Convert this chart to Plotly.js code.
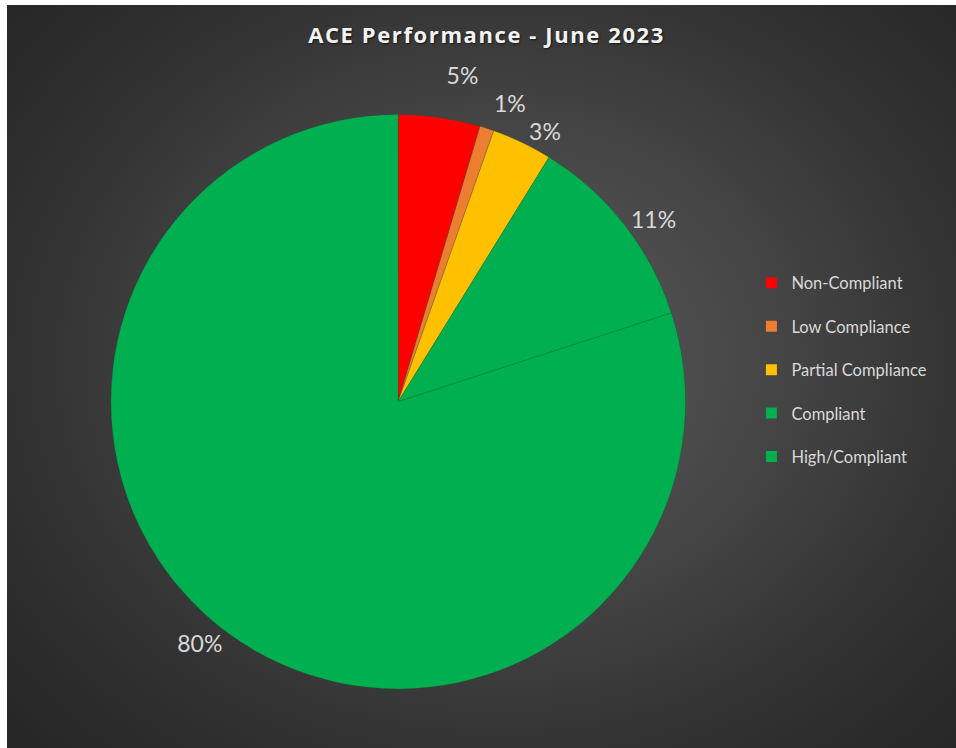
<!DOCTYPE html>
<html>
<head>
<meta charset="utf-8">
<script src="https://cdn.plot.ly/plotly-3.0.1.min.js"></script>
<style>
  html, body { margin:0; padding:0; background:#ffffff; width:956px; height:748px; overflow:hidden; }
  #bg { position:absolute; left:7px; top:5px; width:949px; height:743px;
        background: radial-gradient(ellipse 70% 75% at 52% 48%, #5c5c5c 0%, #464646 40%, #303030 75%, #262626 100%); }
  #chart { position:absolute; left:0; top:0; width:956px; height:748px; }
  #chart path.textline { stroke-opacity: 0 !important; }
  #chart .gtitle { letter-spacing: 1.6px; }
</style>
</head>
<body>
<div id="bg"></div>
<div id="chart"></div>
<script>
const categories = ["Non-Compliant", "Low Compliance", "Partial Compliance", "Compliant", "High/Compliant"];
const values = [4.6, 0.8, 3.4, 11.2, 80.0];
const colors = ["#FF0000", "#ED7D31", "#FFC000", "#00B050", "#00B050"];
const titleText = "ACE Performance - June 2023";

const pie = {
  type: "pie",
  labels: categories,
  values: values,
  sort: false,
  direction: "clockwise",
  rotation: 0,
  marker: { colors: colors, line: { color: "rgba(0,90,40,0.3)", width: 0.8 } },
  textposition: "outside",
  texttemplate: "%{percent:.0%}",
  textfont: { family: "Lato, 'Noto Sans', sans-serif", size: 23, color: "#D9D9D9" },
  outsidetextfont: { family: "Lato, 'Noto Sans', sans-serif", size: 23, color: "#D9D9D9" },
  automargin: false,
  showlegend: false,
  hoverinfo: "label+percent",
  domain: { x: [0.116, 0.717], y: [0.079, 0.847] }
};

const legendTraces = categories.map((c, i) => ({
  type: "scatter",
  x: [null], y: [null],
  mode: "markers",
  name: c,
  legendgroup: "g" + i,
  marker: { symbol: "square", size: 11, color: colors[i] },
  showlegend: true,
  hoverinfo: "skip"
}));

const layout = {
  width: 956, height: 748,
  margin: { l: 0, r: 0, t: 0, b: 0 },
  paper_bgcolor: "rgba(0,0,0,0)",
  plot_bgcolor: "rgba(0,0,0,0)",
  title: {
    text: "<b>" + titleText + "</b>",
    x: 0.509, xref: "paper", xanchor: "center",
    y: 0.953, yref: "container", yanchor: "middle",
    font: { family: "'Open Sans', sans-serif", size: 22, color: "#F2F2F2", shadow: "1px 1px 2px rgba(0,0,0,0.6)" }
  },
  xaxis: { visible: false, domain: [0.98, 1] },
  yaxis: { visible: false, domain: [0.98, 1] },
  legend: {
    x: 0.786, xanchor: "left", y: 0.645, yanchor: "top",
    bgcolor: "rgba(0,0,0,0)",
    font: { family: "Lato, 'Noto Sans', sans-serif", size: 16.5, color: "#D9D9D9" },
    traceorder: "grouped",
    tracegroupgap: 19,
    itemwidth: 30
  },
  showlegend: true
};

Plotly.newPlot("chart", [pie].concat(legendTraces), layout, { displayModeBar: false, staticPlot: true });
</script>
</body>
</html>
